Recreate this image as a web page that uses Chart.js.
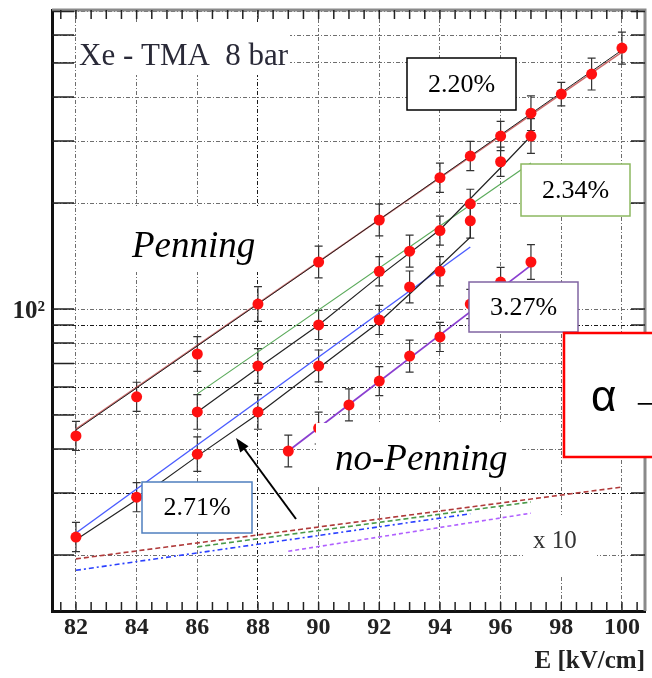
<!DOCTYPE html>
<html>
<head>
<meta charset="utf-8">
<script src="https://cdn.jsdelivr.net/npm/chart.js@4.4.1/dist/chart.umd.min.js"></script>
<style>
  html, body { margin: 0; padding: 0; background: #fff; }
  #wrap { width: 652px; height: 678px; }
</style>
</head>
<body>
<div id="wrap"><canvas id="gainChart" width="652" height="678"></canvas></div>
<script>
// axis ticks
const xTicks = [82, 84, 86, 88, 90, 92, 94, 96, 98, 100];
const yGrid = [20, 30, 40, 50, 60, 70, 80, 90, 100, 200, 300, 400, 500, 600, 700];

// measured gain, Penning mixtures (E in kV/cm)
const e220 = [82, 84, 86, 88, 90, 92, 94, 95, 96, 97, 98, 99, 100];
const g220 = [43.6, 56.3, 74.5, 103.3, 136, 179, 236, 272, 310, 360, 408, 465, 551];
const err220 = [0.10, 0.10, 0.12, 0.12, 0.11, 0.11, 0.10, 0.10, 0.10, 0.12, 0.08, 0.11, 0.11];

const e234 = [86, 88, 90, 92, 93, 94, 95, 96, 97];
const g234 = [51.0, 68.9, 90.1, 128, 146, 167, 199, 262, 310];
const err234 = [0.12, 0.12, 0.10, 0.10, 0.11, 0.10, 0.10, 0.10, 0.12];

const e271 = [82, 84, 86, 88, 90, 92, 93, 94, 95];
const g271 = [22.5, 29.2, 38.7, 51.0, 68.9, 93.1, 115.5, 128, 178];
const err271 = [0.10, 0.10, 0.12, 0.12, 0.11, 0.10, 0.11, 0.10, 0.12];

const e327 = [89, 90, 91, 92, 93, 94, 95, 96, 97];
const g327 = [39.5, 45.9, 53.4, 62.4, 73.5, 83.3, 103.3, 119.3, 136];
const err327 = [0.11, 0.11, 0.11, 0.10, 0.11, 0.10, 0.10, 0.10, 0.12];

// exponential fits (coloured)
const fit220X = [82, 100], fit220Y = [45.6, 537];
const fit234X = [86, 97],  fit234Y = [57.4, 260];
const fit271X = [82, 95],  fit271Y = [23.1, 150];
const fit327X = [89, 97],  fit327Y = [39.5, 133];

// black model curves
const blk220X = [82, 90, 100], blk220Y = [45.3, 136, 544];
const blk234X = [86, 88, 90, 92, 94, 96, 97], blk234Y = [51.0, 68.0, 90.1, 124, 168, 252, 310];
const blk271X = [82, 84, 86, 88, 90, 92, 94, 95, 95], blk271Y = [22.1, 28.7, 38.2, 50.3, 68.0, 91.9, 132.5, 160, 178];

// no-Penning (x 10), dashed
const np220X = [82, 100], np220Y = [19.5, 31.2];
const np234X = [86, 97],  np234Y = [21.1, 28.3];
const np271X = [82, 95],  np271Y = [18.1, 26.2];
const np327X = [89, 97],  np327Y = [20.5, 26.3];

const pts = (xs, ys) => xs.map((x, i) => ({ x: x, y: ys[i] }));

function markers(xs, ys, errs) {
    return {
        data: pts(xs, ys), errFrac: errs, showLine: false,
        pointRadius: 5.5, pointBackgroundColor: '#ff1010', pointBorderWidth: 0
    };
}
function line(xs, ys, color, width, dash) {
    return {
        data: pts(xs, ys), showLine: true, pointRadius: 0,
        borderColor: color, borderWidth: width, borderDash: dash || []
    };
}

const serif = '"Liberation Serif", "Times New Roman", serif';

// error bars, frame ticks, notes and boxes
const decor = {
    id: 'decor',
    beforeDatasetsDraw(chart) {
        const { ctx, scales: { x, y } } = chart;
        ctx.save();
        ctx.strokeStyle = '#333';
        ctx.lineWidth = 1.2;
        chart.data.datasets.forEach(ds => {
            if (!ds.errFrac) return;
            ds.data.forEach((p, i) => {
                const e = ds.errFrac[i];
                const px = x.getPixelForValue(p.x);
                const top = y.getPixelForValue(p.y * (1 + e));
                const bot = y.getPixelForValue(p.y / (1 + e));
                ctx.beginPath();
                ctx.moveTo(px, top); ctx.lineTo(px, bot);
                ctx.moveTo(px - 4, top); ctx.lineTo(px + 4, top);
                ctx.moveTo(px - 4, bot); ctx.lineTo(px + 4, bot);
                ctx.stroke();
            });
        });
        ctx.restore();
    },
    afterDatasetsDraw(chart) {
        const { ctx, chartArea: a, scales: { x, y } } = chart;
        ctx.save();

        // frame: top and right edges
        ctx.strokeStyle = '#8a8a8a';
        ctx.lineWidth = 3;
        ctx.beginPath();
        ctx.moveTo(a.left, a.top); ctx.lineTo(a.right, a.top); ctx.lineTo(a.right, a.bottom);
        ctx.stroke();

        // small ticks on top / bottom
        ctx.strokeStyle = '#222';
        ctx.lineWidth = 1.5;
        for (let v = 81.5; v <= 100.5; v += 0.5) {
            const px = x.getPixelForValue(v);
            ctx.beginPath();
            ctx.moveTo(px, a.bottom); ctx.lineTo(px, a.bottom - 9);
            ctx.moveTo(px, a.top); ctx.lineTo(px, a.top + 9);
            ctx.stroke();
        }
        // ticks on left / right
        yGrid.forEach(v => {
            const py = y.getPixelForValue(v);
            ctx.beginPath();
            ctx.moveTo(a.left, py); ctx.lineTo(a.left + 22, py);
            ctx.moveTo(a.right, py); ctx.lineTo(a.right - 14, py);
            ctx.stroke();
        });

        // y label 10^2
        ctx.fillStyle = '#222';
        ctx.font = 'bold 25px ' + serif;
        ctx.textAlign = 'right';
        ctx.textBaseline = 'middle';
        ctx.fillText('10²', 45, y.getPixelForValue(100) + 3);

        // white patches behind notes
        ctx.fillStyle = '#fff';
        ctx.fillRect(76, 22, 214, 53);
        ctx.fillRect(120, 206, 150, 66);
        ctx.fillRect(316, 423, 205, 62);
        ctx.fillRect(523, 515, 74, 62);

        ctx.textAlign = 'left';
        ctx.textBaseline = 'alphabetic';
        ctx.fillStyle = '#2a2a38';
        ctx.font = '31px ' + serif;
        ctx.fillText('Xe - TMA  8 bar', 79, 65);

        ctx.fillStyle = '#000';
        ctx.font = 'italic 37px ' + serif;
        ctx.fillText('Penning', 132, 257);
        ctx.fillText('no-Penning', 335, 470);

        ctx.fillStyle = '#333';
        ctx.font = '25px ' + serif;
        ctx.fillText('x 10', 533, 548);

        // percentage boxes
        const box = (x0, y0, w, h, color, txt) => {
            ctx.fillStyle = '#fff';
            ctx.fillRect(x0, y0, w, h);
            ctx.strokeStyle = color;
            ctx.lineWidth = 1.5;
            ctx.strokeRect(x0, y0, w, h);
            ctx.fillStyle = '#000';
            ctx.font = '26px ' + serif;
            ctx.textAlign = 'center';
            ctx.textBaseline = 'middle';
            ctx.fillText(txt, x0 + w / 2, y0 + h / 2 + 1);
        };
        box(407, 58, 109, 52, '#000', '2.20%');
        box(521, 164, 109, 52, '#8cb860', '2.34%');
        box(469, 282, 109, 50, '#8064a2', '3.27%');
        box(142, 482, 110, 51, '#4f7fbf', '2.71%');

        // red box at the right edge
        ctx.fillStyle = '#fff';
        ctx.fillRect(564, 333, 100, 124);
        ctx.strokeStyle = '#ff0000';
        ctx.lineWidth = 2.5;
        ctx.strokeRect(564, 333, 100, 124);
        ctx.fillStyle = '#000';
        ctx.font = '44px "Liberation Sans", Arial, sans-serif';
        ctx.textAlign = 'left';
        ctx.textBaseline = 'alphabetic';
        ctx.fillText('α →', 591, 411);

        // arrow pointing at the 2.71% curve
        ctx.strokeStyle = '#000';
        ctx.fillStyle = '#000';
        ctx.lineWidth = 2;
        ctx.beginPath();
        ctx.moveTo(296, 519); ctx.lineTo(243, 447);
        ctx.stroke();
        const ang = Math.atan2(438 - 519, 236 - 296);
        ctx.beginPath();
        ctx.moveTo(236, 438);
        ctx.lineTo(236 - 15 * Math.cos(ang - 0.35), 438 - 15 * Math.sin(ang - 0.35));
        ctx.lineTo(236 - 15 * Math.cos(ang + 0.35), 438 - 15 * Math.sin(ang + 0.35));
        ctx.closePath();
        ctx.fill();

        ctx.restore();
    }
};

const gridColor = (dark) => (c) => (c.tick && dark.includes(c.tick.value)) ? '#1a1a1a' : '#6e6e6e';

const ctx = document.getElementById('gainChart').getContext('2d');
new Chart(ctx, {
    type: 'scatter',
    data: {
        datasets: [
            markers(e220, g220, err220),
            markers(e234, g234, err234),
            markers(e271, g271, err271),
            markers(e327, g327, err327),
            line(blk220X, blk220Y, '#222', 1),
            line(blk234X, blk234Y, '#222', 1.2),
            line(blk271X, blk271Y, '#222', 1.2),
            line(fit220X, fit220Y, 'rgba(190,70,70,0.8)', 1.6),
            line(fit234X, fit234Y, '#5aaa5a', 1.2),
            line(fit271X, fit271Y, '#4a5cff', 1.4),
            line(fit327X, fit327Y, '#8a3fd0', 1.8),
            line(np220X, np220Y, '#b03a3a', 1.6, [5, 3]),
            line(np234X, np234Y, '#4a9a4a', 1.6, [5, 3]),
            line(np271X, np271Y, '#2a40ff', 1.6, [5, 3, 2, 3]),
            line(np327X, np327Y, '#b060ff', 1.6, [4, 3])
        ]
    },
    options: {
        responsive: false,
        animation: false,
        layout: { padding: { top: 10, right: 7, bottom: 1, left: 0 } },
        plugins: { legend: { display: false }, tooltip: { enabled: false } },
        scales: {
            x: {
                type: 'linear',
                min: 81.21,
                max: 100.76,
                afterBuildTicks: s => { s.ticks = xTicks.map(v => ({ value: v })); },
                afterFit: s => { s.height = 66; },
                grid: { color: gridColor([88]), lineWidth: 1, drawTicks: false },
                border: { display: true, color: '#111', width: 3, dash: [4, 2, 1, 2] },
                ticks: { color: '#222', padding: 2, font: { family: serif, size: 24, weight: 'bold' } },
                title: {
                    display: true, text: 'E [kV/cm]', align: 'end', color: '#222',
                    padding: { top: 0, bottom: 0 },
                    font: { family: serif, size: 25, weight: 'bold' }
                }
            },
            y: {
                type: 'logarithmic',
                min: 13.87,
                max: 707,
                afterBuildTicks: s => { s.ticks = yGrid.map(v => ({ value: v })); },
                afterFit: s => { s.width = 52; },
                grid: { color: gridColor([30, 60, 90]), lineWidth: 1, drawTicks: false },
                border: { display: true, color: '#111', width: 3, dash: [4, 2, 1, 2] },
                ticks: { display: false }
            }
        }
    },
    plugins: [decor]
});
</script>
</body>
</html>
